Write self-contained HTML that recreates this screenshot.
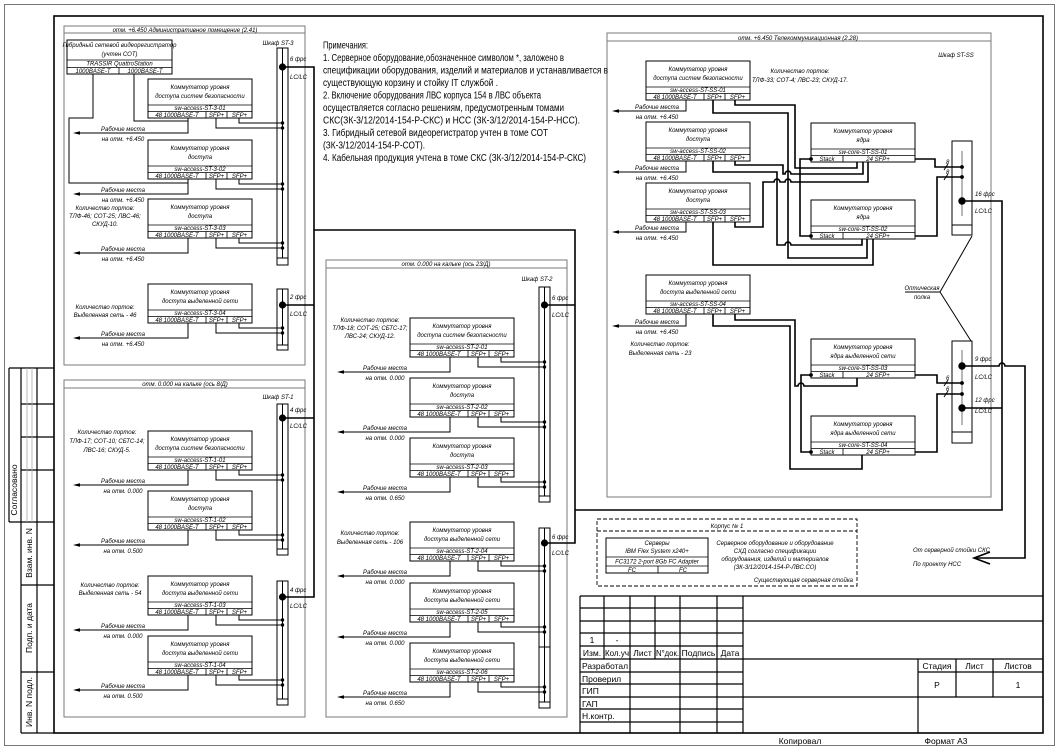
<!DOCTYPE html>
<html><head><meta charset="utf-8"><style>
html,body{margin:0;padding:0;background:#fff;}
svg{display:block;}
text{font-family:"Liberation Sans","DejaVu Sans",sans-serif;fill:#000;}
.i{font-style:italic;font-size:6px;text-anchor:middle;}
.il{font-style:italic;font-size:6px;}
.n{font-size:10px;}
.tb{font-size:8.5px;}
.tc{font-size:8.5px;text-anchor:middle;}
.k{stroke:#000;fill:none;stroke-width:1;}
.g{stroke:#7a7a7a;fill:none;stroke-width:1;}
.th{stroke:#000;fill:none;stroke-width:1.6;}
.sw rect{fill:#fff;stroke:#000;stroke-width:1;}
.sw path{fill:none;stroke:#000;stroke-width:0.8;}
</style></head><body>
<svg width="1059" height="749" viewBox="0 0 1059 749" xmlns="http://www.w3.org/2000/svg">
<rect width="1059" height="749" fill="#fff"/>
<rect x="4.5" y="4.5" width="1050" height="741" fill="none" stroke="#555" stroke-width="0.8"/>
<rect x="54" y="16" width="989" height="717" fill="none" stroke="#000" stroke-width="1.6"/>

<!-- left stamp -->
<path d="M9 368H54M9 368V522M21 368V733M37 368V733M21 404H54M21 437H54M21 470H54M9 522H54M21 585H54M21 672H54M21 733H54" stroke="#000" stroke-width="1.2" fill="none"/>
<path d="M27 368V522M32 368V522" stroke="#aaa" stroke-width="0.8"/>
<text class="tb" text-anchor="middle" transform="translate(17,490) rotate(-90)">Согласовано</text>
<text class="tb" text-anchor="middle" transform="translate(32,553) rotate(-90)">Взам. инв. N</text>
<text class="tb" text-anchor="middle" transform="translate(32,628) rotate(-90)">Подп. и дата</text>
<text class="tb" text-anchor="middle" transform="translate(32,702) rotate(-90)">Инв. N подл.</text>

<!-- zone boxes -->
<rect x="64" y="26" width="241" height="339" class="g"/><line x1="64" y1="33" x2="305" y2="33" class="g"/>
<text class="i" x="185" y="32">отм. +6.450 Административное помещение (2.41)</text>
<rect x="64" y="380" width="241" height="337" class="g"/><line x1="64" y1="388" x2="305" y2="388" class="g"/>
<text class="i" x="185" y="386">отм. 0.000 на кальке (ось 8/Д)</text>
<rect x="326" y="260" width="241" height="457" class="g"/><line x1="326" y1="268" x2="567" y2="268" class="g"/>
<text class="i" x="446" y="266">отм. 0.000 на кальке (ось 23/Д)</text>
<rect x="607" y="33" width="384" height="464" class="g"/><line x1="607" y1="41" x2="991" y2="41" class="g"/>
<text class="i" x="798" y="40">отм. +6.450 Телекоммуникационная (2.28)</text>

<!-- notes -->
<text class="n" x="323" y="48.5" textLength="45" lengthAdjust="spacingAndGlyphs">Примечания:</text>
<text class="n" x="323" y="61" textLength="241" lengthAdjust="spacingAndGlyphs">1. Серверное оборудование,обозначенное символом *, заложено в</text>
<text class="n" x="323" y="73.5" textLength="285" lengthAdjust="spacingAndGlyphs">спецификации оборудования, изделий и материалов и устанавливается в</text>
<text class="n" x="323" y="86" textLength="175" lengthAdjust="spacingAndGlyphs">существующую корзину и стойку IT службой .</text>
<text class="n" x="323" y="98.5" textLength="218" lengthAdjust="spacingAndGlyphs">2. Включение оборудования ЛВС корпуса 154 в ЛВС объекта</text>
<text class="n" x="323" y="111" textLength="241" lengthAdjust="spacingAndGlyphs">осуществляется согласно решениям, предусмотренным томами</text>
<text class="n" x="323" y="123.5" textLength="257" lengthAdjust="spacingAndGlyphs">СКС(ЗК-3/12/2014-154-Р-СКС) и НСС (ЗК-3/12/2014-154-Р-НСС).</text>
<text class="n" x="323" y="136" textLength="225" lengthAdjust="spacingAndGlyphs">3. Гибридный сетевой видеорегистратор учтен в томе СОТ</text>
<text class="n" x="323" y="148.5" textLength="102" lengthAdjust="spacingAndGlyphs">(ЗК-3/12/2014-154-Р-СОТ).</text>
<text class="n" x="323" y="161" textLength="263" lengthAdjust="spacingAndGlyphs">4. Кабельная продукция учтена в томе СКС (ЗК-3/12/2014-154-Р-СКС)</text>

<!-- ===== Box A ===== -->
<g class="sw"><rect x="67" y="40" width="105" height="34"/><path d="M67 60H172M67 67.5H172M119 67.5V74"/></g>
<text class="i" x="119.5" y="47">Гибридный сетевой видеорегистратор</text>
<text class="i" x="119.5" y="56">(учтен СОТ)</text>
<text class="i" x="119.5" y="65.5">TRASSIR QuattroStation</text>
<text class="i" x="93" y="73">1000BASE-T</text>
<text class="i" x="145" y="73">1000BASE-T</text>
<path class="k" d="M93 74V118H69V183H188M134 74V121H188"/>

<text class="i" x="278" y="45">Шкаф ST-3</text>
<rect x="277" y="48" width="11" height="217" class="k"/><path class="k" d="M282.5 48V258M277 258H288"/>
<rect x="277" y="289" width="11" height="61" class="k"/><path class="k" d="M282.5 289V345M277 345H288"/>
<text class="il" x="290" y="61">6 фрс</text><text class="il" x="290" y="79">LC/LC</text>
<text class="il" x="290" y="299">2 фрс</text><text class="il" x="290" y="316">LC/LC</text>

<g class="sw" transform="translate(148,79)"><rect width="104" height="39"/><path d="M0 26H104M0 32.5H104M58 32.5V39M79 32.5V39"/><text class="i" x="52" y="10">Коммутатор уровня</text><text class="i" x="52" y="19">доступа систем безопасности</text><text class="i" x="52" y="31">sw-access-ST-3-01</text><text class="i" x="29" y="38">48 1000BASE-T</text><text class="i" x="68.5" y="38">SFP+</text><text class="i" x="91.5" y="38">SFP+</text></g>
<g class="sw" transform="translate(148,140)"><rect width="104" height="39"/><path d="M0 26H104M0 32.5H104M58 32.5V39M79 32.5V39"/><text class="i" x="52" y="10">Коммутатор уровня</text><text class="i" x="52" y="19">доступа</text><text class="i" x="52" y="31">sw-access-ST-3-02</text><text class="i" x="29" y="38">48 1000BASE-T</text><text class="i" x="68.5" y="38">SFP+</text><text class="i" x="91.5" y="38">SFP+</text></g>
<g class="sw" transform="translate(148,199)"><rect width="104" height="39"/><path d="M0 26H104M0 32.5H104M58 32.5V39M79 32.5V39"/><text class="i" x="52" y="10">Коммутатор уровня</text><text class="i" x="52" y="19">доступа</text><text class="i" x="52" y="31">sw-access-ST-3-03</text><text class="i" x="29" y="38">48 1000BASE-T</text><text class="i" x="68.5" y="38">SFP+</text><text class="i" x="91.5" y="38">SFP+</text></g>
<g class="sw" transform="translate(148,284)"><rect width="104" height="39"/><path d="M0 26H104M0 32.5H104M58 32.5V39M79 32.5V39"/><text class="i" x="52" y="10">Коммутатор уровня</text><text class="i" x="52" y="19">доступа выделенной сети</text><text class="i" x="52" y="31">sw-access-ST-3-04</text><text class="i" x="29" y="38">48 1000BASE-T</text><text class="i" x="68.5" y="38">SFP+</text><text class="i" x="91.5" y="38">SFP+</text></g>

<path class="k" d="M188 118V133H78M188 179V194H78M188 238V253H78M188 323V338H78"/>
<path d="M73 133l7-1.7v3.4zM73 194l7-1.7v3.4zM73 253l7-1.7v3.4zM73 338l7-1.7v3.4z" fill="#000"/>
<path class="k" d="M239 118V123H282.5M216 118V128H282.5M239 179V184H282.5M216 179V189H282.5M239 238V243H282.5M216 238V248H282.5M239 323V328H282.5M216 323V333H282.5"/>
<g fill="#000"><circle cx="282.5" cy="123" r="1.7"/><circle cx="282.5" cy="128" r="1.7"/><circle cx="282.5" cy="184" r="1.7"/><circle cx="282.5" cy="189" r="1.7"/><circle cx="282.5" cy="243" r="1.7"/><circle cx="282.5" cy="248" r="1.7"/><circle cx="282.5" cy="328" r="1.7"/><circle cx="282.5" cy="333" r="1.7"/><circle cx="282.5" cy="67" r="3.6"/><circle cx="282.5" cy="305" r="3.6"/></g>
<text class="i" x="123" y="131">Рабочие места</text><text class="i" x="123" y="141">на отм. +6.450</text>
<text class="i" x="123" y="192">Рабочие места</text><text class="i" x="123" y="202">на отм. +6.450</text>
<text class="i" x="123" y="251">Рабочие места</text><text class="i" x="123" y="261">на отм. +6.450</text>
<text class="i" x="123" y="336">Рабочие места</text><text class="i" x="123" y="346">на отм. +6.450</text>
<text class="i" x="105" y="210">Количество портов:</text><text class="i" x="105" y="218">ТЛФ-46; СОТ-25; ЛВС-46;</text><text class="i" x="105" y="226">СКУД-10.</text>
<text class="i" x="105" y="309">Количество портов:</text><text class="i" x="105" y="317">Выделенная сеть - 46</text>

<!-- ===== Box B ===== -->
<text class="i" x="278" y="399">Шкаф ST-1</text>
<rect x="277" y="404" width="11" height="151" class="k"/><path class="k" d="M282.5 404V549M277 549H288"/>
<rect x="277" y="581" width="11" height="124" class="k"/><path class="k" d="M282.5 581V699M277 699H288"/>
<text class="il" x="290" y="412">4 фрс</text><text class="il" x="290" y="428">LC/LC</text>
<text class="il" x="290" y="592">4 фрс</text><text class="il" x="290" y="608">LC/LC</text>

<g class="sw" transform="translate(148,431)"><rect width="104" height="39"/><path d="M0 26H104M0 32.5H104M58 32.5V39M79 32.5V39"/><text class="i" x="52" y="10">Коммутатор уровня</text><text class="i" x="52" y="19">доступа систем безопасности</text><text class="i" x="52" y="31">sw-access-ST-1-01</text><text class="i" x="29" y="38">48 1000BASE-T</text><text class="i" x="68.5" y="38">SFP+</text><text class="i" x="91.5" y="38">SFP+</text></g>
<g class="sw" transform="translate(148,491)"><rect width="104" height="39"/><path d="M0 26H104M0 32.5H104M58 32.5V39M79 32.5V39"/><text class="i" x="52" y="10">Коммутатор уровня</text><text class="i" x="52" y="19">доступа</text><text class="i" x="52" y="31">sw-access-ST-1-02</text><text class="i" x="29" y="38">48 1000BASE-T</text><text class="i" x="68.5" y="38">SFP+</text><text class="i" x="91.5" y="38">SFP+</text></g>
<g class="sw" transform="translate(148,576)"><rect width="104" height="39"/><path d="M0 26H104M0 32.5H104M58 32.5V39M79 32.5V39"/><text class="i" x="52" y="10">Коммутатор уровня</text><text class="i" x="52" y="19">доступа выделенной сети</text><text class="i" x="52" y="31">sw-access-ST-1-03</text><text class="i" x="29" y="38">48 1000BASE-T</text><text class="i" x="68.5" y="38">SFP+</text><text class="i" x="91.5" y="38">SFP+</text></g>
<g class="sw" transform="translate(148,636)"><rect width="104" height="39"/><path d="M0 26H104M0 32.5H104M58 32.5V39M79 32.5V39"/><text class="i" x="52" y="10">Коммутатор уровня</text><text class="i" x="52" y="19">доступа выделенной сети</text><text class="i" x="52" y="31">sw-access-ST-1-04</text><text class="i" x="29" y="38">48 1000BASE-T</text><text class="i" x="68.5" y="38">SFP+</text><text class="i" x="91.5" y="38">SFP+</text></g>

<path class="k" d="M188 470V485H78M188 530V545H78M188 615V630H78M188 675V690H78"/>
<path d="M73 485l7-1.7v3.4zM73 545l7-1.7v3.4zM73 630l7-1.7v3.4zM73 690l7-1.7v3.4z" fill="#000"/>
<path class="k" d="M239 470V475H282.5M216 470V480H282.5M239 530V535H282.5M216 530V540H282.5M239 615V620H282.5M216 615V625H282.5M239 675V680H282.5M216 675V685H282.5"/>
<g fill="#000"><circle cx="282.5" cy="475" r="1.7"/><circle cx="282.5" cy="480" r="1.7"/><circle cx="282.5" cy="535" r="1.7"/><circle cx="282.5" cy="540" r="1.7"/><circle cx="282.5" cy="620" r="1.7"/><circle cx="282.5" cy="625" r="1.7"/><circle cx="282.5" cy="680" r="1.7"/><circle cx="282.5" cy="685" r="1.7"/><circle cx="282.5" cy="418" r="3.6"/><circle cx="282.5" cy="597" r="3.6"/></g>
<text class="i" x="123" y="483">Рабочие места</text><text class="i" x="123" y="493">на отм. 0.000</text>
<text class="i" x="123" y="543">Рабочие места</text><text class="i" x="123" y="553">на отм. 0.500</text>
<text class="i" x="123" y="628">Рабочие места</text><text class="i" x="123" y="638">на отм. 0.000</text>
<text class="i" x="123" y="688">Рабочие места</text><text class="i" x="123" y="698">на отм. 0.500</text>
<text class="i" x="107" y="434">Количество портов:</text><text class="i" x="107" y="443">ТЛФ-17; СОТ-10; СБТС-14;</text><text class="i" x="107" y="452">ЛВС-16; СКУД-5.</text>
<text class="i" x="110" y="587">Количество портов:</text><text class="i" x="110" y="595">Выделенная сеть - 54</text>

<!-- ===== Box C ===== -->
<text class="i" x="537" y="281">Шкаф ST-2</text>
<rect x="539" y="287" width="11" height="215" class="k"/><path class="k" d="M544.5 287V496M539 496H550"/>
<rect x="539" y="528" width="11" height="180" class="k"/><path class="k" d="M544.5 528V702M539 702H550M539 647H550"/>
<text class="il" x="552" y="300">6 фрс</text><text class="il" x="552" y="317">LC/LC</text>
<text class="il" x="552" y="539">6 фрс</text><text class="il" x="552" y="555">LC/LC</text>

<g class="sw" transform="translate(410,318)"><rect width="104" height="39"/><path d="M0 26H104M0 32.5H104M58 32.5V39M79 32.5V39"/><text class="i" x="52" y="10">Коммутатор уровня</text><text class="i" x="52" y="19">доступа систем безопасности</text><text class="i" x="52" y="31">sw-access-ST-2-01</text><text class="i" x="29" y="38">48 1000BASE-T</text><text class="i" x="68.5" y="38">SFP+</text><text class="i" x="91.5" y="38">SFP+</text></g>
<g class="sw" transform="translate(410,378)"><rect width="104" height="39"/><path d="M0 26H104M0 32.5H104M58 32.5V39M79 32.5V39"/><text class="i" x="52" y="10">Коммутатор уровня</text><text class="i" x="52" y="19">доступа</text><text class="i" x="52" y="31">sw-access-ST-2-02</text><text class="i" x="29" y="38">48 1000BASE-T</text><text class="i" x="68.5" y="38">SFP+</text><text class="i" x="91.5" y="38">SFP+</text></g>
<g class="sw" transform="translate(410,438)"><rect width="104" height="39"/><path d="M0 26H104M0 32.5H104M58 32.5V39M79 32.5V39"/><text class="i" x="52" y="10">Коммутатор уровня</text><text class="i" x="52" y="19">доступа</text><text class="i" x="52" y="31">sw-access-ST-2-03</text><text class="i" x="29" y="38">48 1000BASE-T</text><text class="i" x="68.5" y="38">SFP+</text><text class="i" x="91.5" y="38">SFP+</text></g>
<g class="sw" transform="translate(410,522)"><rect width="104" height="39"/><path d="M0 26H104M0 32.5H104M58 32.5V39M79 32.5V39"/><text class="i" x="52" y="10">Коммутатор уровня</text><text class="i" x="52" y="19">доступа выделенной сети</text><text class="i" x="52" y="31">sw-access-ST-2-04</text><text class="i" x="29" y="38">48 1000BASE-T</text><text class="i" x="68.5" y="38">SFP+</text><text class="i" x="91.5" y="38">SFP+</text></g>
<g class="sw" transform="translate(410,583)"><rect width="104" height="39"/><path d="M0 26H104M0 32.5H104M58 32.5V39M79 32.5V39"/><text class="i" x="52" y="10">Коммутатор уровня</text><text class="i" x="52" y="19">доступа выделенной сети</text><text class="i" x="52" y="31">sw-access-ST-2-05</text><text class="i" x="29" y="38">48 1000BASE-T</text><text class="i" x="68.5" y="38">SFP+</text><text class="i" x="91.5" y="38">SFP+</text></g>
<g class="sw" transform="translate(410,643)"><rect width="104" height="39"/><path d="M0 26H104M0 32.5H104M58 32.5V39M79 32.5V39"/><text class="i" x="52" y="10">Коммутатор уровня</text><text class="i" x="52" y="19">доступа выделенной сети</text><text class="i" x="52" y="31">sw-access-ST-2-06</text><text class="i" x="29" y="38">48 1000BASE-T</text><text class="i" x="68.5" y="38">SFP+</text><text class="i" x="91.5" y="38">SFP+</text></g>

<path class="k" d="M450 357V372H342M450 417V432H342M450 477V492H342M450 561V576H342M450 622V637H342M450 682V697H342"/>
<path d="M337 372l7-1.7v3.4zM337 432l7-1.7v3.4zM337 492l7-1.7v3.4zM337 576l7-1.7v3.4zM337 637l7-1.7v3.4zM337 697l7-1.7v3.4z" fill="#000"/>
<path class="k" d="M501 357V362H544.5M478 357V367H544.5M501 417V422H544.5M478 417V427H544.5M501 477V482H544.5M478 477V487H544.5M501 561V566H544.5M478 561V571H544.5M501 622V627H544.5M478 622V632H544.5M501 682V687H544.5M478 682V692H544.5"/>
<g fill="#000"><circle cx="544.5" cy="362" r="1.7"/><circle cx="544.5" cy="367" r="1.7"/><circle cx="544.5" cy="422" r="1.7"/><circle cx="544.5" cy="427" r="1.7"/><circle cx="544.5" cy="482" r="1.7"/><circle cx="544.5" cy="487" r="1.7"/><circle cx="544.5" cy="566" r="1.7"/><circle cx="544.5" cy="571" r="1.7"/><circle cx="544.5" cy="627" r="1.7"/><circle cx="544.5" cy="632" r="1.7"/><circle cx="544.5" cy="687" r="1.7"/><circle cx="544.5" cy="692" r="1.7"/><circle cx="544.5" cy="305" r="3.6"/><circle cx="544.5" cy="543" r="3.6"/></g>
<text class="i" x="385" y="370">Рабочие места</text><text class="i" x="385" y="380">на отм. 0.000</text>
<text class="i" x="385" y="430">Рабочие места</text><text class="i" x="385" y="440">на отм. 0.000</text>
<text class="i" x="385" y="490">Рабочие места</text><text class="i" x="385" y="500">на отм. 0.650</text>
<text class="i" x="385" y="574">Рабочие места</text><text class="i" x="385" y="584">на отм. 0.000</text>
<text class="i" x="385" y="635">Рабочие места</text><text class="i" x="385" y="645">на отм. 0.000</text>
<text class="i" x="385" y="695">Рабочие места</text><text class="i" x="385" y="705">на отм. 0.650</text>
<text class="i" x="370" y="322">Количество портов:</text><text class="i" x="370" y="330">ТЛФ-18; СОТ-25; СБТС-17;</text><text class="i" x="370" y="338">ЛВС-24; СКУД-12.</text>
<text class="i" x="370" y="535">Количество портов:</text><text class="i" x="370" y="544">Выделенная сеть - 106</text>

<!-- ===== Box D ===== -->
<text class="i" x="956" y="57">Шкаф ST-SS</text>
<rect x="952" y="141" width="20" height="94" class="k"/><path class="k" d="M952 225H972"/><path d="M962 151V216" stroke="#999" stroke-width="1.4"/>
<rect x="952" y="341" width="20" height="102" class="k"/><path class="k" d="M952 432H972"/><path d="M962 350V425" stroke="#999" stroke-width="1.4"/>
<text class="il" x="975" y="196">16 фрс</text><text class="il" x="975" y="213">LC/LC</text>
<text class="il" x="975" y="361">9 фрс</text><text class="il" x="975" y="379">LC/LC</text>
<text class="il" x="975" y="402">12 фрс</text><text class="il" x="975" y="413">LC/LC</text>

<g class="sw" transform="translate(646,61)"><rect width="104" height="39"/><path d="M0 26H104M0 32.5H104M58 32.5V39M79 32.5V39"/><text class="i" x="52" y="10">Коммутатор уровня</text><text class="i" x="52" y="19">доступа систем безопасности</text><text class="i" x="52" y="31">sw-access-ST-SS-01</text><text class="i" x="29" y="38">48 1000BASE-T</text><text class="i" x="68.5" y="38">SFP+</text><text class="i" x="91.5" y="38">SFP+</text></g>
<g class="sw" transform="translate(646,122)"><rect width="104" height="39"/><path d="M0 26H104M0 32.5H104M58 32.5V39M79 32.5V39"/><text class="i" x="52" y="10">Коммутатор уровня</text><text class="i" x="52" y="19">доступа</text><text class="i" x="52" y="31">sw-access-ST-SS-02</text><text class="i" x="29" y="38">48 1000BASE-T</text><text class="i" x="68.5" y="38">SFP+</text><text class="i" x="91.5" y="38">SFP+</text></g>
<g class="sw" transform="translate(646,183)"><rect width="104" height="39"/><path d="M0 26H104M0 32.5H104M58 32.5V39M79 32.5V39"/><text class="i" x="52" y="10">Коммутатор уровня</text><text class="i" x="52" y="19">доступа</text><text class="i" x="52" y="31">sw-access-ST-SS-03</text><text class="i" x="29" y="38">48 1000BASE-T</text><text class="i" x="68.5" y="38">SFP+</text><text class="i" x="91.5" y="38">SFP+</text></g>
<g class="sw" transform="translate(646,275)"><rect width="104" height="39"/><path d="M0 26H104M0 32.5H104M58 32.5V39M79 32.5V39"/><text class="i" x="52" y="10">Коммутатор уровня</text><text class="i" x="52" y="19">доступа выделенной сети</text><text class="i" x="52" y="31">sw-access-ST-SS-04</text><text class="i" x="29" y="38">48 1000BASE-T</text><text class="i" x="68.5" y="38">SFP+</text><text class="i" x="91.5" y="38">SFP+</text></g>

<g class="sw" transform="translate(811,123)"><rect width="104" height="39"/><path d="M0 26H104M0 32.5H104M32 32.5V39"/><text class="i" x="52" y="10">Коммутатор уровня</text><text class="i" x="52" y="19">ядра</text><text class="i" x="52" y="31">sw-core-ST-SS-01</text><text class="i" x="16" y="38">Stack</text><text class="i" x="67" y="38">24 SFP+</text></g>
<g class="sw" transform="translate(811,200)"><rect width="104" height="39"/><path d="M0 26H104M0 32.5H104M32 32.5V39"/><text class="i" x="52" y="10">Коммутатор уровня</text><text class="i" x="52" y="19">ядра</text><text class="i" x="52" y="31">sw-core-ST-SS-02</text><text class="i" x="16" y="38">Stack</text><text class="i" x="67" y="38">24 SFP+</text></g>
<g class="sw" transform="translate(811,339)"><rect width="104" height="39"/><path d="M0 26H104M0 32.5H104M32 32.5V39"/><text class="i" x="52" y="10">Коммутатор уровня</text><text class="i" x="52" y="19">ядра выделенной сети</text><text class="i" x="52" y="31">sw-core-ST-SS-03</text><text class="i" x="16" y="38">Stack</text><text class="i" x="67" y="38">24 SFP+</text></g>
<g class="sw" transform="translate(811,416)"><rect width="104" height="39"/><path d="M0 26H104M0 32.5H104M32 32.5V39"/><text class="i" x="52" y="10">Коммутатор уровня</text><text class="i" x="52" y="19">ядра выделенной сети</text><text class="i" x="52" y="31">sw-core-ST-SS-04</text><text class="i" x="16" y="38">Stack</text><text class="i" x="67" y="38">24 SFP+</text></g>

<path class="k" d="M686 100V111H617M686 161V172H617M686 222V232H617M686 314V326H617"/>
<path d="M612 111l7-1.7v3.4zM612 172l7-1.7v3.4zM612 232l7-1.7v3.4zM612 326l7-1.7v3.4z" fill="#000"/>
<text class="i" x="657" y="109">Рабочие места</text><text class="i" x="657" y="119">на отм. +6.450</text>
<text class="i" x="657" y="170">Рабочие места</text><text class="i" x="657" y="180">на отм. +6.450</text>
<text class="i" x="657" y="230">Рабочие места</text><text class="i" x="657" y="240">на отм. +6.450</text>
<text class="i" x="657" y="324">Рабочие места</text><text class="i" x="657" y="334">на отм. +6.450</text>
<text class="i" x="800" y="73">Количество портов:</text><text class="i" x="800" y="82">ТЛФ-33; СОТ-4; ЛВС-23; СКУД-17.</text>
<text class="i" x="660" y="346">Количество портов:</text><text class="i" x="660" y="355">Выделенная сеть - 23</text>

<path class="th" d="M735 100V105H795V168H857V162"/>
<path class="th" d="M713 100V113H788V258H867V239"/>
<path class="th" d="M735 161V165H783V174H785a3 3 0 0 1 6 0H863V162"/>
<path class="th" d="M713 161V172H777V245H785a3 3 0 0 1 6 0H862V239"/>
<path class="th" d="M735 222V227H763V182H774a3 3 0 0 1 6 0H785a3 3 0 0 1 6 0H868V162"/>
<path class="th" d="M713 222V265H873V239"/>
<path class="th" d="M735 314V320H795V386H798a3 3 0 0 1 6 0H857V378"/>
<path class="th" d="M713 314V326H790V469H862V455"/>
<path class="th" d="M811 159H800V236H811M811 375H801V452H811"/>
<path class="th" d="M915 159H935V167H962M915 236H937V177H962M915 375H937V383H962M915 452H937V394H962"/>
<path class="k" d="M944 170L948 164M944 180L948 174M944 386L948 380M944 397L948 391"/>
<text class="il" x="946" y="164">8</text><text class="il" x="946" y="174">8</text>
<text class="il" x="946" y="380">6</text><text class="il" x="946" y="391">6</text>
<g fill="#000"><circle cx="811" cy="159" r="1.9"/><circle cx="811" cy="236" r="1.9"/><circle cx="811" cy="375" r="1.9"/><circle cx="811" cy="452" r="1.9"/><circle cx="962" cy="167" r="1.9"/><circle cx="962" cy="177" r="1.9"/><circle cx="962" cy="383" r="1.9"/><circle cx="962" cy="394" r="1.9"/><circle cx="962" cy="201" r="3.7"/><circle cx="962" cy="366" r="3.7"/><circle cx="962" cy="408" r="3.7"/></g>

<path class="k" d="M905 292H940L972 236M940 292L971 341"/>
<text class="i" x="922" y="290">Оптическая</text><text class="i" x="922" y="299">полка</text>

<!-- trunks -->
<path class="th" d="M282.5 67H314V597H282.5M282.5 305H314M282.5 418H314M314 230H575V543H544.5M544.5 305H575M575 510H1002V201H962M962 408H1002"/>
<path class="th" d="M962 366H999a3 3 0 0 1 6 0H1025V558H974"/>
<path class="th" d="M990 552L974 558L990 564"/>
<text class="il" x="913" y="552">От серверной стойки СКС</text>
<text class="il" x="913" y="566">По проекту НСС</text>

<!-- dashed server box -->
<rect x="597" y="519" width="260" height="67" fill="none" stroke="#000" stroke-width="0.9" stroke-dasharray="4 2"/>
<line x1="597" y1="531" x2="857" y2="531" stroke="#000" stroke-width="0.9" stroke-dasharray="4 2"/>
<text class="i" x="727" y="528">Корпус № 1</text>
<g class="sw"><rect x="606" y="538" width="102" height="35"/><path d="M606 557H708M606 566H708M658 566V573"/></g>
<text class="i" x="657" y="545">Серверы</text>
<text class="i" x="657" y="553">IBM Flex System x240+</text>
<text class="i" x="657" y="563.5">FC3172 2-port 8Gb FC Adapter</text>
<text class="i" x="632" y="572">FC</text><text class="i" x="683" y="572">FC</text>
<text class="i" x="775" y="545">Серверное оборудование и оборудование</text>
<text class="i" x="775" y="553">СХД согласно спецификации</text>
<text class="i" x="775" y="561">оборудования, изделий и материалов</text>
<text class="i" x="775" y="569">(ЗК-3/12/2014-154-Р-ЛВС.СО)</text>
<text class="il" x="853" y="582" text-anchor="end">Существующая серверная стойка</text>

<!-- title block -->
<path d="M580 596H1043M580 596V733M580 608H743M580 621H1043M580 633H743M580 646H743M580 659H1043M580 672H743M580 684H743M580 697H1043M580 709H743M580 722H743M604 596V659M655 596V659M630 596V733M680 596V733M717 596V733M743 596V733M918 659V733M956 659V697M993 659V697M918 672H1043" stroke="#000" stroke-width="1.2" fill="none"/>
<text class="tc" x="592" y="643">1</text><text class="tc" x="617" y="643">-</text>
<text class="tc" x="592" y="656">Изм.</text><text class="tc" x="617" y="656" textLength="24" lengthAdjust="spacingAndGlyphs">Кол.уч</text><text class="tc" x="642.5" y="656">Лист</text><text class="tc" x="667.5" y="656" textLength="23" lengthAdjust="spacingAndGlyphs">N°док.</text><text class="tc" x="698.5" y="656">Подпись</text><text class="tc" x="730" y="656">Дата</text>
<text class="tb" x="582" y="669" textLength="46" lengthAdjust="spacingAndGlyphs">Разработал</text>
<text class="tb" x="582" y="682">Проверил</text>
<text class="tb" x="582" y="694">ГИП</text>
<text class="tb" x="582" y="707">ГАП</text>
<text class="tb" x="582" y="719">Н.контр.</text>
<text class="tc" x="937" y="669">Стадия</text><text class="tc" x="974.5" y="669">Лист</text><text class="tc" x="1018" y="669">Листов</text>
<text class="tc" x="937" y="688">Р</text><text class="tc" x="1018" y="688">1</text>
<text class="tc" x="800" y="744">Копировал</text>
<text class="tc" x="946" y="744">Формат А3</text>
</svg>
</body></html>
